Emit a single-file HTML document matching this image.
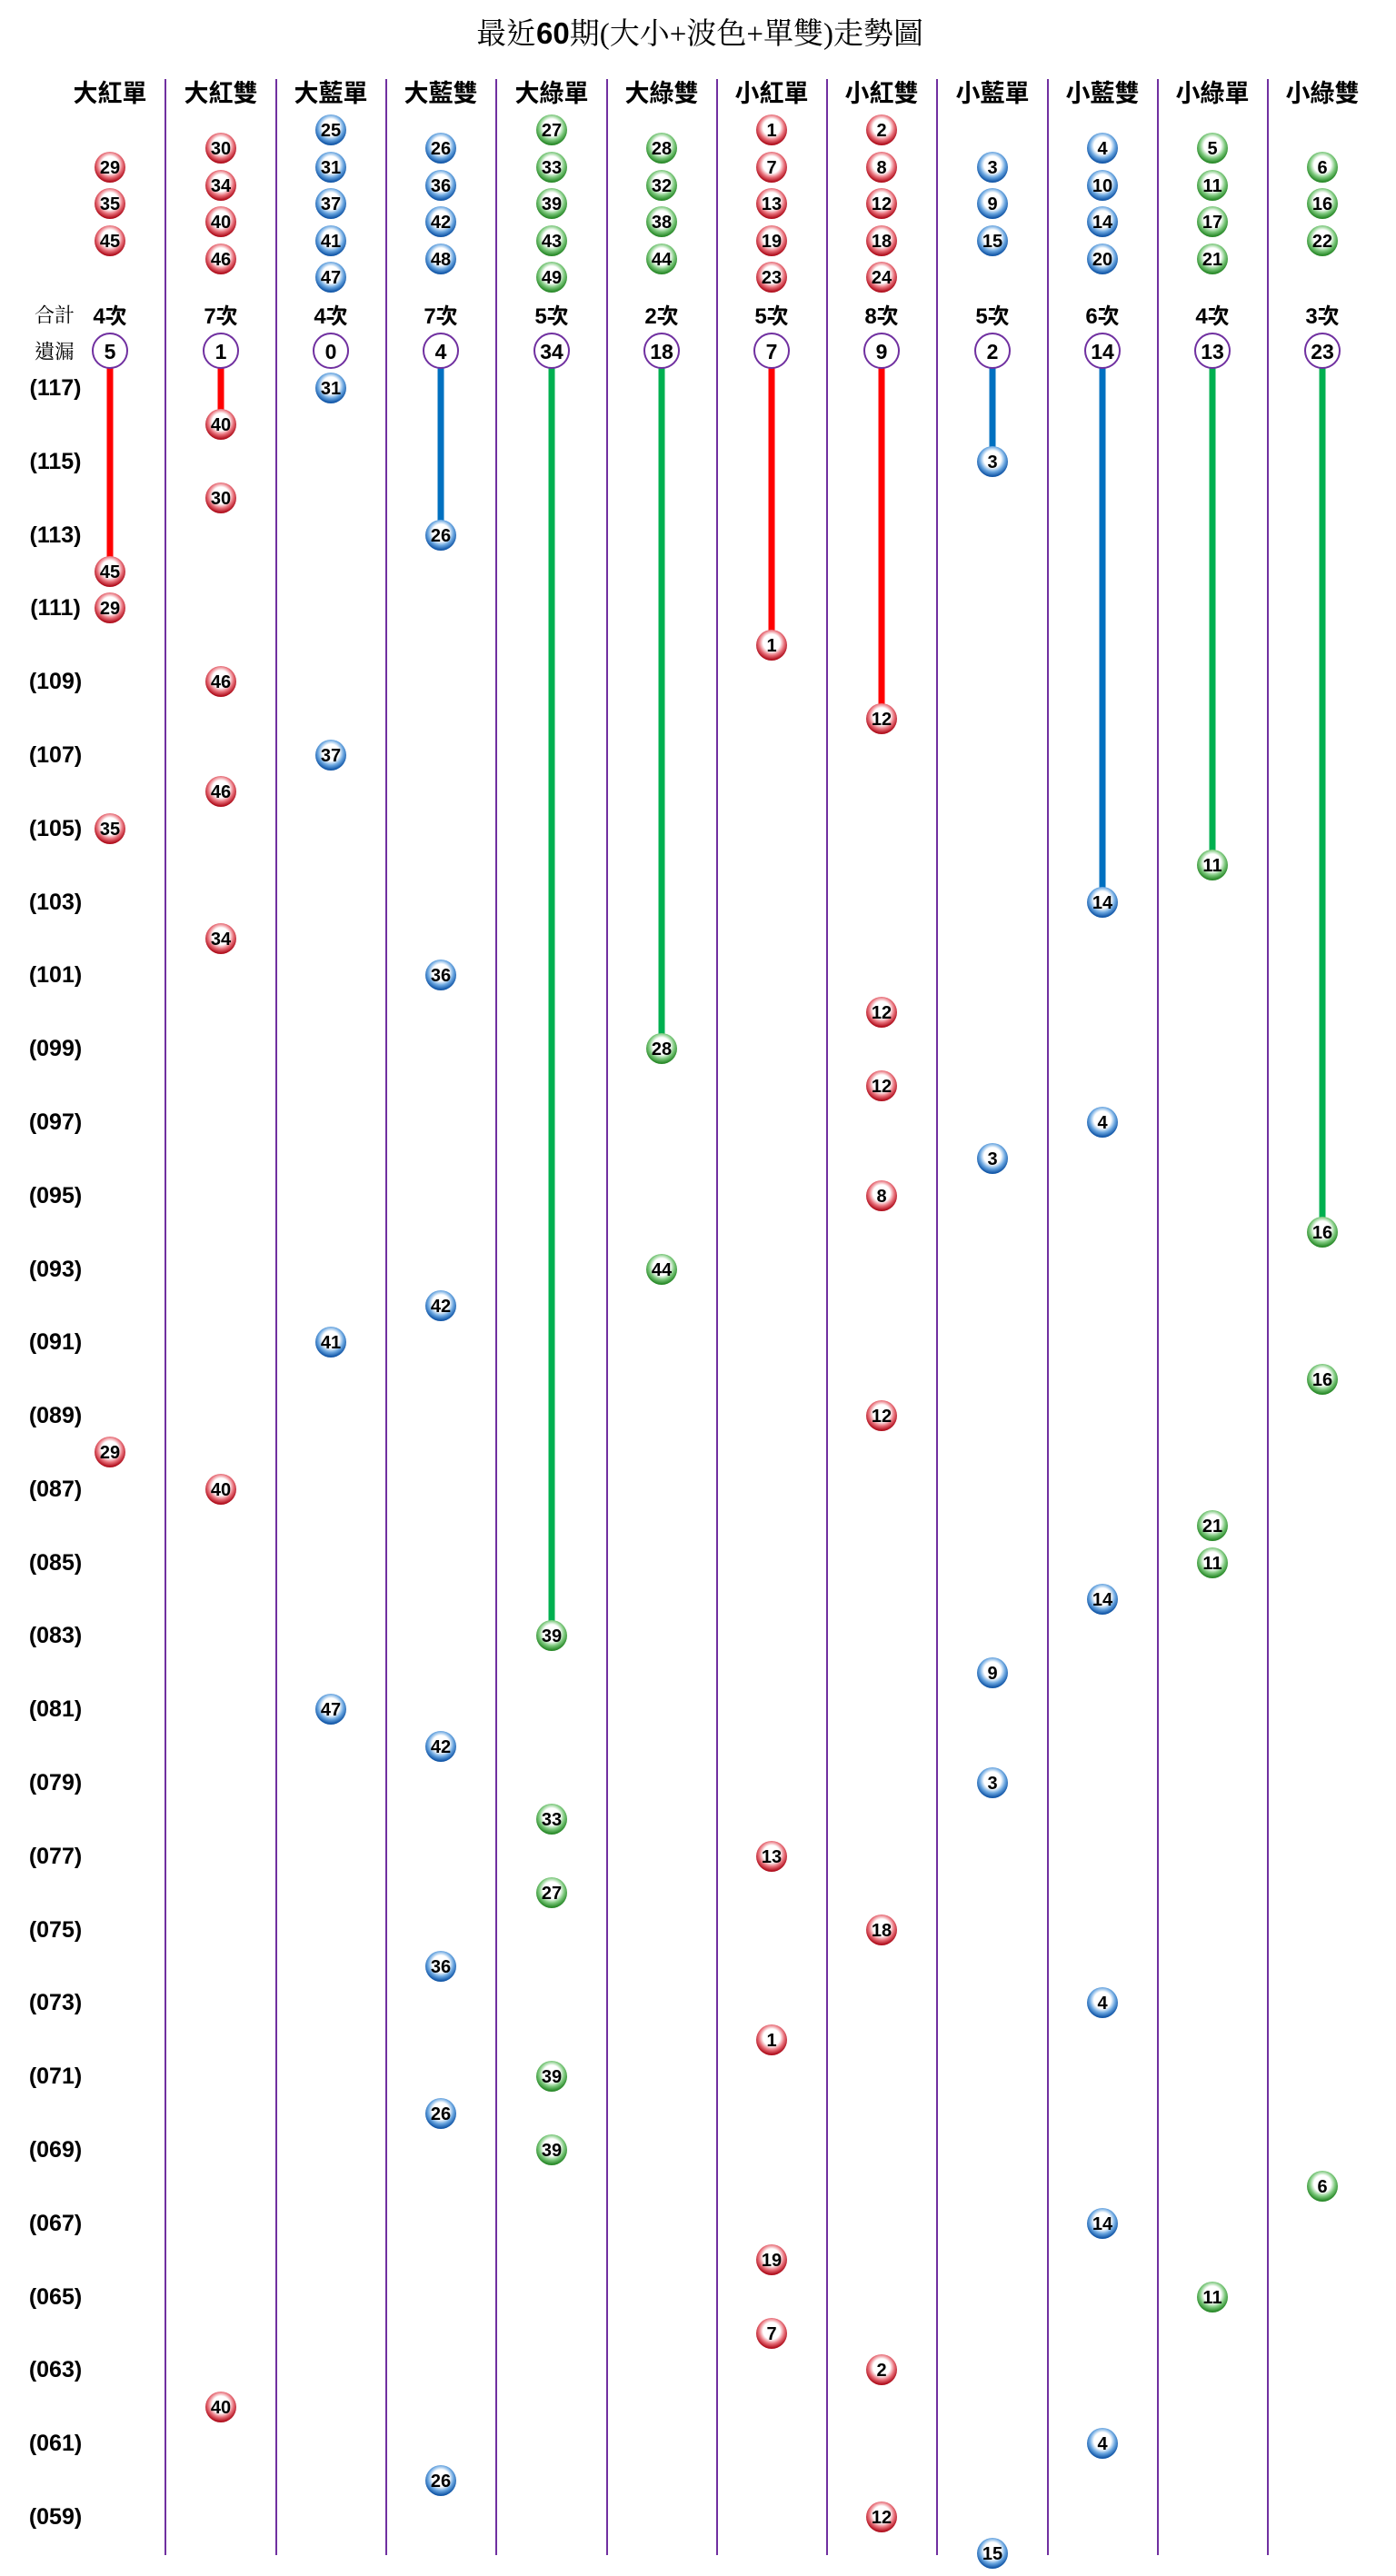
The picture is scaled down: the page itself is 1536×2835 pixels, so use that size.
<!DOCTYPE html>
<html><head><meta charset="utf-8">
<style>
html,body{margin:0;padding:0;background:#fff;}
svg{display:block;}
.t{font-family:"Liberation Serif","Noto Serif CJK TC","Noto Serif CJK SC",serif;}
.h{font-family:"Liberation Sans","Noto Sans CJK TC",sans-serif;font-weight:bold;font-size:27px;text-anchor:middle;fill:#000;}
.c{font-family:"Liberation Sans","Noto Sans CJK TC",sans-serif;font-weight:bold;font-size:24px;text-anchor:middle;fill:#000;}
.m{font-family:"Liberation Sans",sans-serif;font-weight:bold;font-size:23px;text-anchor:middle;fill:#000;dominant-baseline:central;}
.l{font-family:"Liberation Sans",sans-serif;font-weight:bold;font-size:25px;text-anchor:middle;fill:#000;dominant-baseline:central;}
.s{font-family:"Liberation Serif","Noto Serif CJK TC",serif;font-size:22px;fill:#000;dominant-baseline:central;}
.b text{font-family:"Liberation Sans Narrow","Liberation Sans",sans-serif;font-weight:bold;font-size:20px;text-anchor:middle;dominant-baseline:central;fill:#000;}
.r{fill:url(#gr);} .u{fill:url(#gb);} .g{fill:url(#gg);}
.o{fill:#fff;stroke:#7030a0;stroke-width:2;}
</style></head><body>
<svg width="1536" height="2835" viewBox="0 0 1536 2835" xmlns="http://www.w3.org/2000/svg">
<defs>
<radialGradient id="gr" cx="50%" cy="42%" r="55%"><stop offset="0" stop-color="#fff"/><stop offset="0.5" stop-color="#fff"/><stop offset="0.75" stop-color="#e8707a"/><stop offset="1" stop-color="#b0101e"/></radialGradient>
<radialGradient id="gb" cx="50%" cy="42%" r="55%"><stop offset="0" stop-color="#fff"/><stop offset="0.5" stop-color="#fff"/><stop offset="0.75" stop-color="#6aa6e0"/><stop offset="1" stop-color="#1458a8"/></radialGradient>
<radialGradient id="gg" cx="50%" cy="42%" r="55%"><stop offset="0" stop-color="#fff"/><stop offset="0.5" stop-color="#fff"/><stop offset="0.75" stop-color="#7cc87c"/><stop offset="1" stop-color="#2a8a2a"/></radialGradient>
</defs>
<text x="770" y="48" text-anchor="middle" font-size="33" class="t">最近<tspan font-family="Liberation Sans" font-weight="bold">60</tspan>期(大小+波色+單雙)走勢圖</text>

<g stroke="#7030a0" stroke-width="2">
<line x1="182" y1="87" x2="182" y2="2812"/><line x1="304" y1="87" x2="304" y2="2812"/><line x1="425" y1="87" x2="425" y2="2812"/><line x1="546" y1="87" x2="546" y2="2812"/><line x1="668" y1="87" x2="668" y2="2812"/><line x1="789" y1="87" x2="789" y2="2812"/><line x1="910" y1="87" x2="910" y2="2812"/><line x1="1031" y1="87" x2="1031" y2="2812"/><line x1="1153" y1="87" x2="1153" y2="2812"/><line x1="1274" y1="87" x2="1274" y2="2812"/><line x1="1395" y1="87" x2="1395" y2="2812"/>
</g>

<g class="h">
<text x="121" y="112">大紅單</text><text x="243" y="112">大紅雙</text><text x="364" y="112">大藍單</text><text x="485" y="112">大藍雙</text><text x="607" y="112">大綠單</text><text x="728" y="112">大綠雙</text><text x="849" y="112">小紅單</text><text x="970" y="112">小紅雙</text><text x="1092" y="112">小藍單</text><text x="1213" y="112">小藍雙</text><text x="1334" y="112">小綠單</text><text x="1455" y="112">小綠雙</text>
</g>

<text class="s" x="38" y="347">合計</text>
<text class="s" x="38" y="387">遺漏</text>
<g class="c">
<text x="121" y="356">4次</text><text x="243" y="356">7次</text><text x="364" y="356">4次</text><text x="485" y="356">7次</text><text x="607" y="356">5次</text><text x="728" y="356">2次</text><text x="849" y="356">5次</text><text x="970" y="356">8次</text><text x="1092" y="356">5次</text><text x="1213" y="356">6次</text><text x="1334" y="356">4次</text><text x="1455" y="356">3次</text>
</g>

<g stroke-width="7">
<line x1="121" y1="400" x2="121" y2="629" stroke="#ff0000"/>
<line x1="243" y1="400" x2="243" y2="467" stroke="#ff0000"/>
<line x1="485" y1="400" x2="485" y2="589" stroke="#0070c0"/>
<line x1="607" y1="400" x2="607" y2="1800" stroke="#00b050"/>
<line x1="728" y1="400" x2="728" y2="1154" stroke="#00b050"/>
<line x1="849" y1="400" x2="849" y2="710" stroke="#ff0000"/>
<line x1="970" y1="400" x2="970" y2="791" stroke="#ff0000"/>
<line x1="1092" y1="400" x2="1092" y2="508" stroke="#0070c0"/>
<line x1="1213" y1="400" x2="1213" y2="993" stroke="#0070c0"/>
<line x1="1334" y1="400" x2="1334" y2="952" stroke="#00b050"/>
<line x1="1455" y1="400" x2="1455" y2="1356" stroke="#00b050"/>
</g>

<g>
<circle class="o" cx="121" cy="386" r="19"/><circle class="o" cx="243" cy="386" r="19"/><circle class="o" cx="364" cy="386" r="19"/><circle class="o" cx="485" cy="386" r="19"/><circle class="o" cx="607" cy="386" r="19"/><circle class="o" cx="728" cy="386" r="19"/><circle class="o" cx="849" cy="386" r="19"/><circle class="o" cx="970" cy="386" r="19"/><circle class="o" cx="1092" cy="386" r="19"/><circle class="o" cx="1213" cy="386" r="19"/><circle class="o" cx="1334" cy="386" r="19"/><circle class="o" cx="1455" cy="386" r="19"/>
</g>
<g class="m">
<text x="121" y="387">5</text><text x="243" y="387">1</text><text x="364" y="387">0</text><text x="485" y="387">4</text><text x="607" y="387">34</text><text x="728" y="387">18</text><text x="849" y="387">7</text><text x="970" y="387">9</text><text x="1092" y="387">2</text><text x="1213" y="387">14</text><text x="1334" y="387">13</text><text x="1455" y="387">23</text>
</g>

<g class="l">
<text x="61" y="427">(117)</text><text x="61" y="508">(115)</text><text x="61" y="589">(113)</text><text x="61" y="669">(111)</text><text x="61" y="750">(109)</text><text x="61" y="831">(107)</text><text x="61" y="912">(105)</text><text x="61" y="993">(103)</text><text x="61" y="1073">(101)</text><text x="61" y="1154">(099)</text><text x="61" y="1235">(097)</text><text x="61" y="1316">(095)</text><text x="61" y="1397">(093)</text><text x="61" y="1477">(091)</text><text x="61" y="1558">(089)</text><text x="61" y="1639">(087)</text><text x="61" y="1720">(085)</text><text x="61" y="1800">(083)</text><text x="61" y="1881">(081)</text><text x="61" y="1962">(079)</text><text x="61" y="2043">(077)</text><text x="61" y="2124">(075)</text><text x="61" y="2204">(073)</text><text x="61" y="2285">(071)</text><text x="61" y="2366">(069)</text><text x="61" y="2447">(067)</text><text x="61" y="2528">(065)</text><text x="61" y="2608">(063)</text><text x="61" y="2689">(061)</text><text x="61" y="2770">(059)</text>
</g>

<g class="b">
<circle class="r" cx="121" cy="184" r="17"/><text x="121" y="185">29</text>
<circle class="r" cx="121" cy="224" r="17"/><text x="121" y="225">35</text>
<circle class="r" cx="121" cy="265" r="17"/><text x="121" y="266">45</text>
<circle class="r" cx="243" cy="163" r="17"/><text x="243" y="164">30</text>
<circle class="r" cx="243" cy="204" r="17"/><text x="243" y="205">34</text>
<circle class="r" cx="243" cy="244" r="17"/><text x="243" y="245">40</text>
<circle class="r" cx="243" cy="285" r="17"/><text x="243" y="286">46</text>
<circle class="u" cx="364" cy="143" r="17"/><text x="364" y="144">25</text>
<circle class="u" cx="364" cy="184" r="17"/><text x="364" y="185">31</text>
<circle class="u" cx="364" cy="224" r="17"/><text x="364" y="225">37</text>
<circle class="u" cx="364" cy="265" r="17"/><text x="364" y="266">41</text>
<circle class="u" cx="364" cy="305" r="17"/><text x="364" y="306">47</text>
<circle class="u" cx="485" cy="163" r="17"/><text x="485" y="164">26</text>
<circle class="u" cx="485" cy="204" r="17"/><text x="485" y="205">36</text>
<circle class="u" cx="485" cy="244" r="17"/><text x="485" y="245">42</text>
<circle class="u" cx="485" cy="285" r="17"/><text x="485" y="286">48</text>
<circle class="g" cx="607" cy="143" r="17"/><text x="607" y="144">27</text>
<circle class="g" cx="607" cy="184" r="17"/><text x="607" y="185">33</text>
<circle class="g" cx="607" cy="224" r="17"/><text x="607" y="225">39</text>
<circle class="g" cx="607" cy="265" r="17"/><text x="607" y="266">43</text>
<circle class="g" cx="607" cy="305" r="17"/><text x="607" y="306">49</text>
<circle class="g" cx="728" cy="163" r="17"/><text x="728" y="164">28</text>
<circle class="g" cx="728" cy="204" r="17"/><text x="728" y="205">32</text>
<circle class="g" cx="728" cy="244" r="17"/><text x="728" y="245">38</text>
<circle class="g" cx="728" cy="285" r="17"/><text x="728" y="286">44</text>
<circle class="r" cx="849" cy="143" r="17"/><text x="849" y="144">1</text>
<circle class="r" cx="849" cy="184" r="17"/><text x="849" y="185">7</text>
<circle class="r" cx="849" cy="224" r="17"/><text x="849" y="225">13</text>
<circle class="r" cx="849" cy="265" r="17"/><text x="849" y="266">19</text>
<circle class="r" cx="849" cy="305" r="17"/><text x="849" y="306">23</text>
<circle class="r" cx="970" cy="143" r="17"/><text x="970" y="144">2</text>
<circle class="r" cx="970" cy="184" r="17"/><text x="970" y="185">8</text>
<circle class="r" cx="970" cy="224" r="17"/><text x="970" y="225">12</text>
<circle class="r" cx="970" cy="265" r="17"/><text x="970" y="266">18</text>
<circle class="r" cx="970" cy="305" r="17"/><text x="970" y="306">24</text>
<circle class="u" cx="1092" cy="184" r="17"/><text x="1092" y="185">3</text>
<circle class="u" cx="1092" cy="224" r="17"/><text x="1092" y="225">9</text>
<circle class="u" cx="1092" cy="265" r="17"/><text x="1092" y="266">15</text>
<circle class="u" cx="1213" cy="163" r="17"/><text x="1213" y="164">4</text>
<circle class="u" cx="1213" cy="204" r="17"/><text x="1213" y="205">10</text>
<circle class="u" cx="1213" cy="244" r="17"/><text x="1213" y="245">14</text>
<circle class="u" cx="1213" cy="285" r="17"/><text x="1213" y="286">20</text>
<circle class="g" cx="1334" cy="163" r="17"/><text x="1334" y="164">5</text>
<circle class="g" cx="1334" cy="204" r="17"/><text x="1334" y="205">11</text>
<circle class="g" cx="1334" cy="244" r="17"/><text x="1334" y="245">17</text>
<circle class="g" cx="1334" cy="285" r="17"/><text x="1334" y="286">21</text>
<circle class="g" cx="1455" cy="184" r="17"/><text x="1455" y="185">6</text>
<circle class="g" cx="1455" cy="224" r="17"/><text x="1455" y="225">16</text>
<circle class="g" cx="1455" cy="265" r="17"/><text x="1455" y="266">22</text>

<circle class="r" cx="121" cy="629" r="17"/><text x="121" y="630">45</text>
<circle class="r" cx="121" cy="669" r="17"/><text x="121" y="670">29</text>
<circle class="r" cx="121" cy="912" r="17"/><text x="121" y="913">35</text>
<circle class="r" cx="121" cy="1598" r="17"/><text x="121" y="1599">29</text>
<circle class="r" cx="243" cy="467" r="17"/><text x="243" y="468">40</text>
<circle class="r" cx="243" cy="548" r="17"/><text x="243" y="549">30</text>
<circle class="r" cx="243" cy="750" r="17"/><text x="243" y="751">46</text>
<circle class="r" cx="243" cy="871" r="17"/><text x="243" y="872">46</text>
<circle class="r" cx="243" cy="1033" r="17"/><text x="243" y="1034">34</text>
<circle class="r" cx="243" cy="1639" r="17"/><text x="243" y="1640">40</text>
<circle class="r" cx="243" cy="2649" r="17"/><text x="243" y="2650">40</text>
<circle class="u" cx="364" cy="427" r="17"/><text x="364" y="428">31</text>
<circle class="u" cx="364" cy="831" r="17"/><text x="364" y="832">37</text>
<circle class="u" cx="364" cy="1477" r="17"/><text x="364" y="1478">41</text>
<circle class="u" cx="364" cy="1881" r="17"/><text x="364" y="1882">47</text>
<circle class="u" cx="485" cy="589" r="17"/><text x="485" y="590">26</text>
<circle class="u" cx="485" cy="1073" r="17"/><text x="485" y="1074">36</text>
<circle class="u" cx="485" cy="1437" r="17"/><text x="485" y="1438">42</text>
<circle class="u" cx="485" cy="1922" r="17"/><text x="485" y="1923">42</text>
<circle class="u" cx="485" cy="2164" r="17"/><text x="485" y="2165">36</text>
<circle class="u" cx="485" cy="2326" r="17"/><text x="485" y="2327">26</text>
<circle class="u" cx="485" cy="2730" r="17"/><text x="485" y="2731">26</text>
<circle class="g" cx="607" cy="1800" r="17"/><text x="607" y="1801">39</text>
<circle class="g" cx="607" cy="2002" r="17"/><text x="607" y="2003">33</text>
<circle class="g" cx="607" cy="2083" r="17"/><text x="607" y="2084">27</text>
<circle class="g" cx="607" cy="2285" r="17"/><text x="607" y="2286">39</text>
<circle class="g" cx="607" cy="2366" r="17"/><text x="607" y="2367">39</text>
<circle class="g" cx="728" cy="1154" r="17"/><text x="728" y="1155">28</text>
<circle class="g" cx="728" cy="1397" r="17"/><text x="728" y="1398">44</text>
<circle class="r" cx="849" cy="710" r="17"/><text x="849" y="711">1</text>
<circle class="r" cx="849" cy="2043" r="17"/><text x="849" y="2044">13</text>
<circle class="r" cx="849" cy="2245" r="17"/><text x="849" y="2246">1</text>
<circle class="r" cx="849" cy="2487" r="17"/><text x="849" y="2488">19</text>
<circle class="r" cx="849" cy="2568" r="17"/><text x="849" y="2569">7</text>
<circle class="r" cx="970" cy="791" r="17"/><text x="970" y="792">12</text>
<circle class="r" cx="970" cy="1114" r="17"/><text x="970" y="1115">12</text>
<circle class="r" cx="970" cy="1195" r="17"/><text x="970" y="1196">12</text>
<circle class="r" cx="970" cy="1316" r="17"/><text x="970" y="1317">8</text>
<circle class="r" cx="970" cy="1558" r="17"/><text x="970" y="1559">12</text>
<circle class="r" cx="970" cy="2124" r="17"/><text x="970" y="2125">18</text>
<circle class="r" cx="970" cy="2608" r="17"/><text x="970" y="2609">2</text>
<circle class="r" cx="970" cy="2770" r="17"/><text x="970" y="2771">12</text>
<circle class="u" cx="1092" cy="508" r="17"/><text x="1092" y="509">3</text>
<circle class="u" cx="1092" cy="1275" r="17"/><text x="1092" y="1276">3</text>
<circle class="u" cx="1092" cy="1841" r="17"/><text x="1092" y="1842">9</text>
<circle class="u" cx="1092" cy="1962" r="17"/><text x="1092" y="1963">3</text>
<circle class="u" cx="1092" cy="2810" r="17"/><text x="1092" y="2811">15</text>
<circle class="u" cx="1213" cy="993" r="17"/><text x="1213" y="994">14</text>
<circle class="u" cx="1213" cy="1235" r="17"/><text x="1213" y="1236">4</text>
<circle class="u" cx="1213" cy="1760" r="17"/><text x="1213" y="1761">14</text>
<circle class="u" cx="1213" cy="2204" r="17"/><text x="1213" y="2205">4</text>
<circle class="u" cx="1213" cy="2447" r="17"/><text x="1213" y="2448">14</text>
<circle class="u" cx="1213" cy="2689" r="17"/><text x="1213" y="2690">4</text>
<circle class="g" cx="1334" cy="952" r="17"/><text x="1334" y="953">11</text>
<circle class="g" cx="1334" cy="1679" r="17"/><text x="1334" y="1680">21</text>
<circle class="g" cx="1334" cy="1720" r="17"/><text x="1334" y="1721">11</text>
<circle class="g" cx="1334" cy="2528" r="17"/><text x="1334" y="2529">11</text>
<circle class="g" cx="1455" cy="1356" r="17"/><text x="1455" y="1357">16</text>
<circle class="g" cx="1455" cy="1518" r="17"/><text x="1455" y="1519">16</text>
<circle class="g" cx="1455" cy="2406" r="17"/><text x="1455" y="2407">6</text>
</g>
</svg>
</body></html>
